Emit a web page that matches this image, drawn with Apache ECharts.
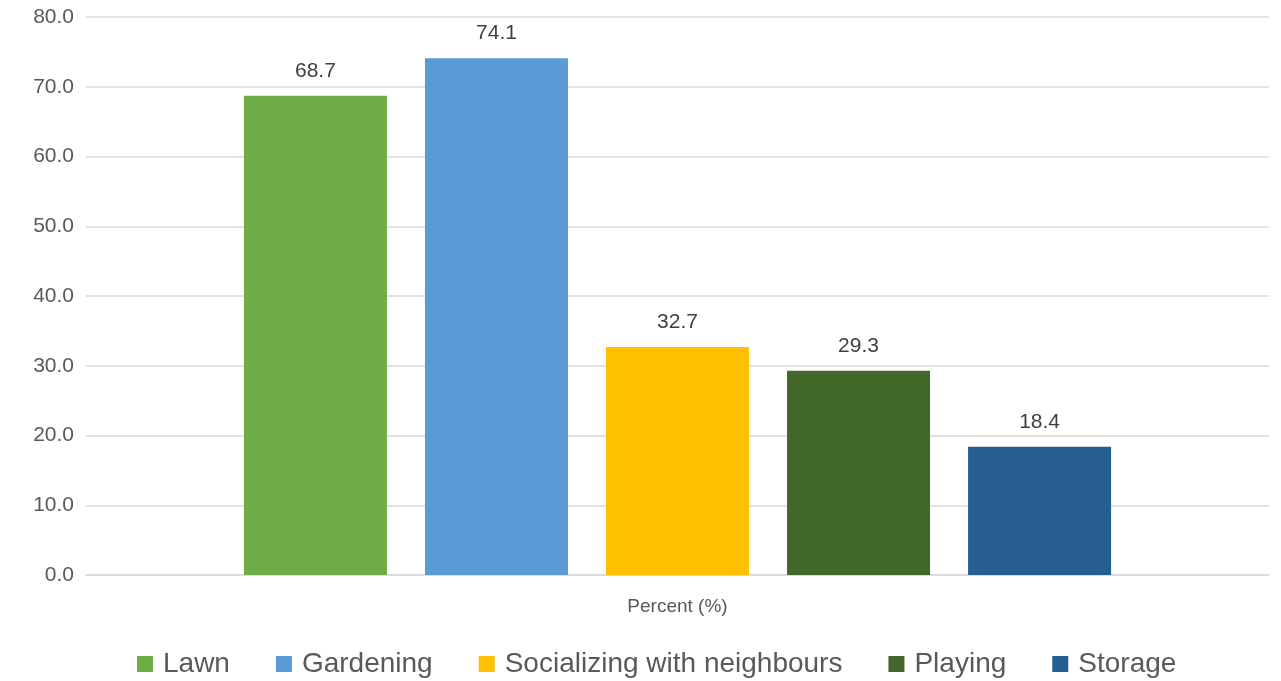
<!DOCTYPE html>
<html>
<head>
<meta charset="utf-8">
<title>Uses of outdoor space</title>
<script src="https://cdn.jsdelivr.net/npm/echarts@6/dist/echarts.min.js"></script>
<style>
  html, body { margin: 0; padding: 0; background: #ffffff; }
  #chart { width: 1281px; height: 681px; }
</style>
</head>
<body>
<div id="chart"></div>
<script>
// Share of respondents by use (percent)
const categories = ['Percent (%)'];
const seriesNames = ['Lawn', 'Gardening', 'Socializing with neighbours', 'Playing', 'Storage'];
const seriesValues = [68.7, 74.1, 32.7, 29.3, 18.4];
const seriesColors = ['#70AD47', '#5B9BD5', '#FFC000', '#43682B', '#255E91'];
const yTicks = { min: 0, max: 80, interval: 10 };

const FONT = '"Liberation Sans", Arial, sans-serif';

const chart = echarts.init(document.getElementById('chart'), null, { renderer: 'canvas' });

const series = seriesNames.map((name, i) => ({
  name: name,
  type: 'bar',
  data: [seriesValues[i]],
  barWidth: 143,
  barGap: '26.6%',
  itemStyle: { color: seriesColors[i] },
  label: {
    show: true,
    position: 'top',
    distance: 14,
    color: '#404040',
    fontFamily: FONT,
    fontSize: 21,
    formatter: p => p.value.toFixed(1)
  }
}));

chart.setOption({
  animation: false,
  backgroundColor: '#ffffff',
  textStyle: { fontFamily: FONT },
  grid: { left: 86, right: 12, top: 17, bottom: 106, containLabel: false },
  legend: {
    data: seriesNames,
    top: 650,
    left: 137,
    icon: 'rect',
    itemWidth: 16,
    itemHeight: 16,
    itemGap: 46,
    padding: 0,
    textStyle: { color: '#595959', fontFamily: FONT, fontSize: 28, padding: [0, 0, 0, 5] }
  },
  xAxis: {
    type: 'category',
    data: categories,
    axisLine: { show: true, lineStyle: { color: '#d9d9d9', width: 1.5 } },
    axisTick: { show: false },
    axisLabel: { color: '#595959', fontFamily: FONT, fontSize: 19, margin: 22 }
  },
  yAxis: {
    type: 'value',
    min: yTicks.min,
    max: yTicks.max,
    interval: yTicks.interval,
    axisLine: { show: false },
    axisTick: { show: false },
    splitLine: { lineStyle: { color: '#d9d9d9', width: 1.5 } },
    axisLabel: {
      color: '#595959',
      fontFamily: FONT,
      fontSize: 21,
      margin: 12,
      formatter: v => v.toFixed(1)
    }
  },
  series: series
});
</script>
</body>
</html>
